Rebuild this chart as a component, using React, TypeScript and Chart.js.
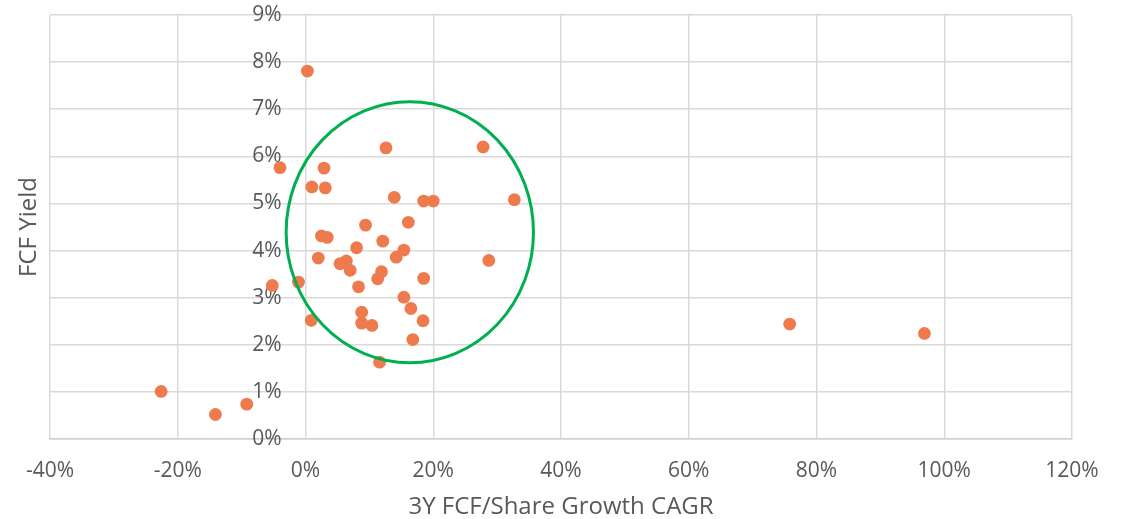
import React, { useEffect, useRef } from "react";
import { Chart, registerables } from "chart.js";

Chart.register(...registerables);

// 3Y FCF/Share Growth CAGR (%)
const growth: number[] = [
  0.3, -4.0, 2.9, 1.0, 3.1, 12.6, 27.8, 13.9, 18.5, 20.0, 32.7, 9.4, 16.1, 2.5, 3.4,
  12.1, 8.0, 15.4, 2.0, 14.2, 28.7, 5.4, 6.4, 7.0, 11.9, 11.3, 18.5, -1.1, -5.2, 8.3,
  15.4, 16.5, 8.8, 8.8, 10.4, 18.4, 0.9, 16.8, 11.6, -22.6, -14.1, -9.2, 75.8, 96.9,
];
// FCF Yield (%)
const fcfYield: number[] = [
  7.81, 5.76, 5.75, 5.35, 5.33, 6.18, 6.2, 5.13, 5.05, 5.05, 5.08, 4.54, 4.6, 4.31, 4.28,
  4.2, 4.06, 4.01, 3.84, 3.86, 3.79, 3.72, 3.78, 3.58, 3.55, 3.4, 3.41, 3.33, 3.26, 3.23,
  3.01, 2.77, 2.69, 2.46, 2.41, 2.51, 2.52, 2.11, 1.63, 1.01, 0.52, 0.74, 2.44, 2.24,
];

const xTitle = "3Y FCF/Share Growth CAGR";
const yTitle = "FCF Yield";

// highlighted cluster ellipse (data units)
const ellipseCenter = { x: 16.33, y: 4.39 };
const ellipseRadius = { x: 19.36, y: 2.77 };

const textColor = "#595959";
const fontFamily = "'Open Sans', 'Liberation Sans', sans-serif";

const overlayPlugin = {
  id: "overlay",
  afterDatasetsDraw(chart: any) {
    const { ctx, chartArea, scales } = chart;
    const xs = scales.x;
    const ys = scales.y;
    const cx = xs.getPixelForValue(ellipseCenter.x);
    const cy = ys.getPixelForValue(ellipseCenter.y);
    const rx = Math.abs(xs.getPixelForValue(ellipseCenter.x + ellipseRadius.x) - cx);
    const ry = Math.abs(ys.getPixelForValue(ellipseCenter.y + ellipseRadius.y) - cy);
    ctx.save();
    ctx.beginPath();
    ctx.ellipse(cx, cy, rx, ry, 0, 0, Math.PI * 2);
    ctx.strokeStyle = "#00B050";
    ctx.lineWidth = 3;
    ctx.stroke();
    ctx.restore();

    ctx.save();
    ctx.translate(29, (chartArea.top + chartArea.bottom) / 2);
    ctx.rotate(-Math.PI / 2);
    ctx.fillStyle = textColor;
    ctx.font = `24px ${fontFamily}`;
    ctx.textAlign = "center";
    ctx.textBaseline = "middle";
    ctx.fillText(yTitle, 0, 0);
    ctx.restore();
  },
};

export default function App() {
  const ref = useRef<HTMLCanvasElement | null>(null);
  useEffect(() => {
    if (!ref.current) return;
    const points = growth.map((g, i) => ({ x: g, y: fcfYield[i] }));
    const chart = new Chart(ref.current, {
      type: "scatter",
      data: {
        datasets: [
          {
            data: points,
            backgroundColor: "#EE7B4E",
            borderWidth: 0,
            pointRadius: 6.4,
            pointHoverRadius: 6.4,
          },
        ],
      },
      options: {
        animation: false,
        responsive: true,
        maintainAspectRatio: false,
        layout: { padding: { left: 50, right: 56, top: 15, bottom: 0 } },
        plugins: { legend: { display: false }, tooltip: { enabled: false } },
        scales: {
          x: {
            type: "linear",
            position: "bottom",
            min: -40,
            max: 120,
            afterFit: (s: any) => {
              s.height = 80;
            },
            ticks: {
              stepSize: 20,
              padding: 19,
              color: textColor,
              font: { size: 21, family: fontFamily },
              callback: (v: any) => `${v}%`,
            },
            grid: { color: "#D9D9D9", lineWidth: 1.5, drawTicks: false },
            border: { color: "#D0D0D0", width: 1.5 },
            title: {
              display: true,
              text: xTitle,
              color: textColor,
              font: { size: 24, family: fontFamily, lineHeight: 1 },
              padding: { top: 0, bottom: 0 },
            },
          },
          y: {
            type: "linear",
            position: { x: -3.75 } as any,
            min: 0,
            max: 9,
            ticks: {
              stepSize: 1,
              padding: 0,
              color: textColor,
              font: { size: 21, family: fontFamily },
              callback: (v: any) => `${v}%`,
            },
            grid: { color: "#D9D9D9", lineWidth: 1.5, drawTicks: false },
            border: { display: false },
          },
        },
      },
      plugins: [overlayPlugin],
    });
    return () => chart.destroy();
  }, []);
  return (
    <div style={{ position: "fixed", left: 0, top: 0, width: 1128, height: 519, background: "#fff" }}>
      <canvas ref={ref} />
    </div>
  );
}
